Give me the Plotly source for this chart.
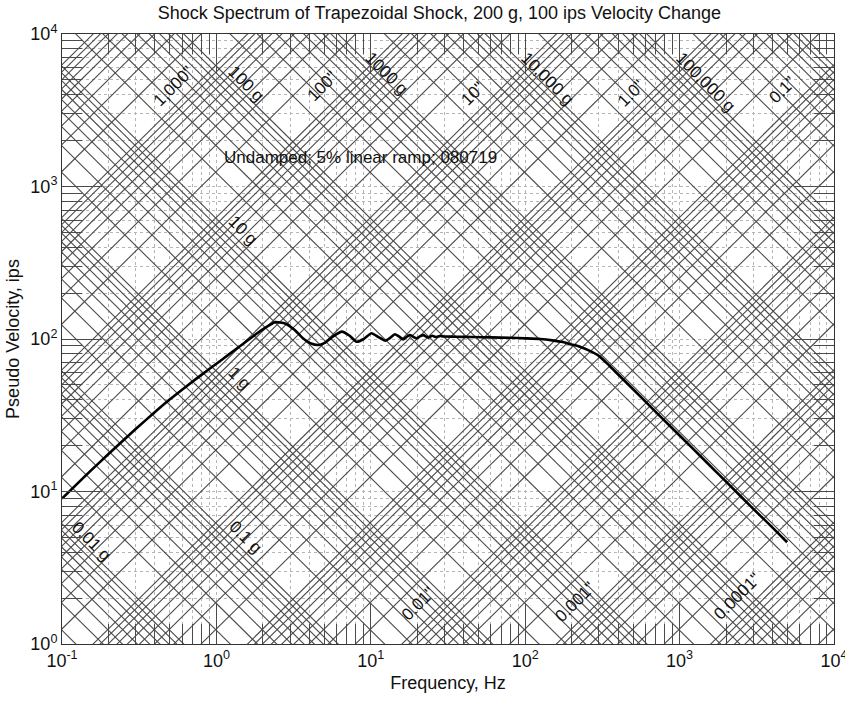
import math
import plotly.graph_objects as go

# ---------------- data ----------------
freq_hz = [0.1, 0.15, 0.2, 0.3, 0.4, 0.5, 0.65, 0.8, 1.0, 1.2, 1.5, 1.8, 2.1, 2.4,
           2.8, 3.2, 3.6, 4.1, 4.6, 5.1, 5.7, 6.5, 7.3, 8.1, 9.0, 10.1, 11.2, 12.4,
           13.4, 14.3, 15.2, 16.2, 17.0, 17.9, 18.8, 19.8, 20.8, 21.9, 22.7, 23.6,
           25.0, 26.5, 28.0, 30.0, 35.0, 45.0, 60.0, 80.0, 100.0, 125.0, 150.0,
           175.0, 200.0, 226.0, 260.0, 300.0, 350.0, 400.0, 500.0, 700.0, 1000.0,
           1500.0, 2000.0, 3000.0, 4000.0, 4970.0]
pseudo_vel_ips = [9.0, 13.4, 17.6, 25.7, 33.2, 40.2, 49.6, 58.2, 68.8, 79.0, 93.5,
                  107.5, 119.5, 129.0, 126.0, 115.0, 102.0, 93.5, 91.4, 95.0, 104.0,
                  111.7, 105.0, 96.0, 100.0, 109.0, 103.0, 97.5, 102.0, 107.4, 104.0,
                  99.5, 103.0, 106.2, 103.5, 101.0, 104.0, 106.0, 104.0, 102.0, 105.0,
                  103.0, 104.5, 103.8, 103.5, 103.0, 102.5, 101.8, 101.0, 100.0, 98.0,
                  95.5, 92.0, 89.0, 84.0, 77.5, 67.0, 58.5, 46.8, 33.3, 23.3, 15.5,
                  11.6, 7.7, 5.8, 4.65]

# tripartite grid levels
grid_multipliers = [1, 2, 3, 4, 5, 6, 7, 8, 9]
accel_decades_g = [-3, -2, -1, 0, 1, 2, 3, 4, 5, 6]
disp_decades_in = [-5, -4, -3, -2, -1, 0, 1, 2, 3, 4]

# axis ticks
x_tick_vals = [0.1, 1, 10, 100, 1000, 10000]
x_tick_text = ["10<sup>-1</sup>", "10<sup>0</sup>", "10<sup>1</sup>",
               "10<sup>2</sup>", "10<sup>3</sup>", "10<sup>4</sup>"]
y_tick_vals = [1, 10, 100, 1000, 10000]
y_tick_text = ["10<sup>0</sup>", "10<sup>1</sup>", "10<sup>2</sup>",
               "10<sup>3</sup>", "10<sup>4</sup>"]

# diagonal labels: text, frequency, pseudo velocity, family
diag_labels = ["1,000\"", "100 g", "100\"", "1000 g", "10\"", "10,000 g", "1.0\"",
               "100,000 g", "0.1\"", "10 g", "1 g", "0.01 g", "0.1 g", "0.01\"",
               "0.001\"", "0.0001\""]
diag_label_f = [0.524, 1.578, 4.83, 12.7, 45.9, 138, 484, 1483, 4677, 1.486, 1.42,
                0.156, 1.556, 20.5, 213, 2355]
diag_label_v = [4560, 4699, 4560, 5546, 4103, 5070, 4103, 4844, 4295, 511, 55.5,
                4.73, 5.03, 1.83, 1.89, 2.06]
diag_label_kind = ["d", "a", "d", "a", "d", "a", "d", "a", "d", "a", "a", "a", "a",
                   "d", "d", "d"]

G_IPS2 = 386.09
F_LO, F_HI = 1e-2, 1e5

FONT = "Liberation Sans, Arial, sans-serif"
LINE_GREY = "#4a4a4a"
TXT = "#111"

fig = go.Figure()

# constant acceleration lines (slope -1)
ax, ay = [], []
for k in accel_decades_g:
    for m in grid_multipliers:
        a = m * 10 ** k
        ax += [F_LO, F_HI, None]
        ay += [a * G_IPS2 / (2 * math.pi * F_LO), a * G_IPS2 / (2 * math.pi * F_HI), None]
fig.add_trace(go.Scatter(x=ax, y=ay, mode="lines", hoverinfo="skip",
                         line=dict(color=LINE_GREY, width=1.1), showlegend=False))

# constant displacement lines (slope +1)
dx, dy = [], []
for k in disp_decades_in:
    for m in grid_multipliers:
        d = m * 10 ** k
        dx += [F_LO, F_HI, None]
        dy += [2 * math.pi * F_LO * d, 2 * math.pi * F_HI * d, None]
fig.add_trace(go.Scatter(x=dx, y=dy, mode="lines", hoverinfo="skip",
                         line=dict(color=LINE_GREY, width=1.1), showlegend=False))

# spectrum curve
fig.add_trace(go.Scatter(x=freq_hz, y=pseudo_vel_ips, mode="lines",
                         line=dict(color="black", width=2.6, shape="spline", smoothing=0.5),
                         showlegend=False))

annotations = []
for txt, f, v, kind in zip(diag_labels, diag_label_f, diag_label_v, diag_label_kind):
    annotations.append(dict(x=math.log10(f), y=math.log10(v), xref="x", yref="y",
                            text=txt, showarrow=False, textangle=45 if kind == "a" else -45,
                            font=dict(family=FONT, size=17, color=TXT),
                            xanchor="center", yanchor="middle"))
annotations.append(dict(x=math.log10(1.087), y=math.log10(1560), xref="x", yref="y",
                        text="Undamped; 5% linear ramp; 080719", showarrow=False,
                        xanchor="left", yanchor="middle",
                        font=dict(family=FONT, size=17, color=TXT)))

minor_x = [m * 10 ** k for k in range(-1, 4) for m in range(2, 10)]
minor_y = [m * 10 ** k for k in range(0, 4) for m in range(2, 10)]

axis_common = dict(type="log", showline=True, linecolor="#333", linewidth=1,
                   mirror="allticks", ticks="inside", ticklen=40, tickcolor=LINE_GREY,
                   tickwidth=1, tickmode="array", showgrid=True, gridcolor="#b5b5b5",
                   griddash="dot", gridwidth=1, zeroline=False, ticklabeloverflow="allow",
                   automargin=False,
                   tickfont=dict(family=FONT, size=18, color=TXT))

fig.update_layout(
    width=845, height=701,
    margin=dict(l=62, r=11, t=34, b=57),
    paper_bgcolor="white", plot_bgcolor="white",
    title=dict(text="Shock Spectrum of Trapezoidal Shock, 200 g, 100 ips Velocity Change",
               x=0.52, xanchor="center", y=1 - 13 / 701, yanchor="middle",
               font=dict(family=FONT, size=18, color=TXT)),
    xaxis=dict(axis_common, range=[-1, 4], tickvals=x_tick_vals, ticktext=x_tick_text,
               title=dict(text="Frequency, Hz", font=dict(family=FONT, size=18, color=TXT),
                          standoff=6),
               minor=dict(tickmode="array", tickvals=minor_x, ticks="inside", ticklen=20,
                          tickcolor=LINE_GREY, showgrid=True, gridcolor="#b5b5b5",
                          griddash="dot")),
    yaxis=dict(axis_common, range=[0, 4], tickvals=y_tick_vals, ticktext=y_tick_text,
               title=dict(text="Pseudo Velocity, ips",
                          font=dict(family=FONT, size=18, color=TXT), standoff=6),
               minor=dict(tickmode="array", tickvals=minor_y, ticks="inside", ticklen=20,
                          tickcolor=LINE_GREY, showgrid=True, gridcolor="#b5b5b5",
                          griddash="dot")),
    annotations=annotations,
)

fig.write_html("out.html")
